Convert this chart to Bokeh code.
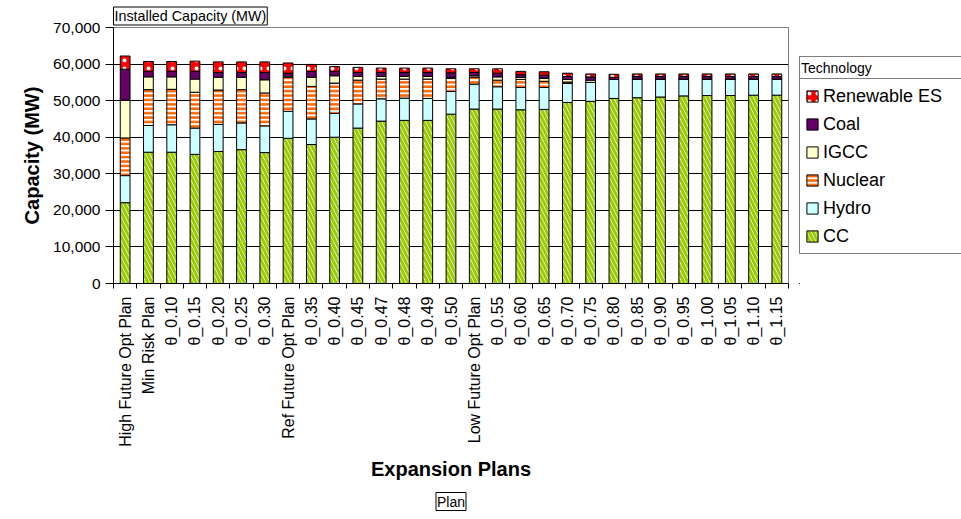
from math import pi

from bokeh.plotting import figure
from bokeh.layouts import row
from bokeh.models import (ColumnDataSource, Range1d, FixedTicker, NumeralTickFormatter,
                          Legend, LegendItem, Title)
from bokeh.transform import stack
from bokeh.embed import file_html
from bokeh.resources import INLINE

FONT = "Liberation Sans"

# Expansion plans on the x axis
plans = ["High Future Opt Plan", "Min Risk Plan", "θ_0.10", "θ_0.15", "θ_0.20", "θ_0.25",
         "θ_0.30", "Ref Future Opt Plan", "θ_0.35", "θ_0.40", "θ_0.45", "θ_0.47", "θ_0.48",
         "θ_0.49", "θ_0.50", "Low Future Opt Plan", "θ_0.55", "θ_0.60", "θ_0.65", "θ_0.70",
         "θ_0.75", "θ_0.80", "θ_0.85", "θ_0.90", "θ_0.95", "θ_1.00", "θ_1.05", "θ_1.10",
         "θ_1.15"]

# Installed capacity by technology (MW)
cc = [22100, 35900, 35900, 35300, 36100, 36600, 35800, 39700, 38000, 40000, 42500, 44400,
      44600, 44600, 46300, 47700, 47700, 47500, 47600, 49500, 49800, 50600, 50800, 51000,
      51300, 51400, 51400, 51500, 51500]
hydro = [7400, 7300, 7500, 7200, 7400, 7300, 7300, 7400, 7000, 6500, 6600, 6100, 6100, 6000,
         6200, 6800, 6100, 6100, 6000, 5200, 5200, 5200, 5100, 4900, 4600, 4500, 4500, 4400,
         4400]
nuclear = [10300, 9800, 9700, 9800, 9400, 9100, 9000, 9300, 8900, 8300, 6500, 5400, 5200, 5300,
           3600, 1900, 1800, 2200, 1700, 400, 0, 0, 0, 0, 0, 0, 0, 0, 0]
igcc = [10300, 3500, 3400, 3600, 3500, 3400, 3600, 300, 2500, 2000, 1000, 700, 700, 700, 300,
        400, 900, 600, 800, 700, 600, 0, 0, 0, 0, 0, 0, 0, 0]
coal = [8500, 1500, 1500, 2100, 1300, 1300, 2000, 800, 1600, 1200, 1100, 1100, 1100, 1100, 1200,
        900, 1000, 700, 900, 800, 900, 600, 700, 700, 700, 700, 700, 700, 700]
renewable = [3600, 2700, 2700, 2800, 2900, 2900, 2900, 2800, 1900, 1300, 1400, 1200, 1200, 1200,
             1100, 1000, 1200, 900, 900, 900, 800, 800, 700, 700, 700, 700, 700, 700, 700]

y_ticks = [0, 10000, 20000, 30000, 40000, 50000, 60000, 70000]

idx = list(range(len(plans)))
source = ColumnDataSource(dict(x=idx, cc=cc, hydro=hydro, nuclear=nuclear, igcc=igcc,
                               coal=coal, renewable=renewable))

# Stack layers, bottom to top, with their fills and hatches
layers = [
    ("cc", "CC", dict(fill_color="white", hatch_pattern="left_diagonal_line",
                      hatch_color="#99CC00", hatch_scale=8, hatch_weight=3)),
    ("hydro", "Hydro", dict(fill_color="#CCFFFF")),
    ("nuclear", "Nuclear", dict(fill_color="white", hatch_pattern="horizontal_line",
                                hatch_color="#FF6600", hatch_scale=4.4, hatch_weight=2.6)),
    ("igcc", "IGCC", dict(fill_color="#FFFFCC")),
    ("coal", "Coal", dict(fill_color="#660066")),
    ("renewable", "Renewable ES", dict(fill_color="#FF0000", hatch_pattern="dot",
                                       hatch_color="white", hatch_scale=8, hatch_weight=1)),
]

BORDERS = dict(min_border_top=27, min_border_bottom=236)

# ---- main chart -------------------------------------------------------------
p = figure(width=799, height=519, output_backend="svg", toolbar_location=None,
           x_range=Range1d(-0.5, len(plans) - 0.5), y_range=Range1d(0, 70000),
           min_border_left=113, min_border_right=11, **BORDERS)
p.background_fill_color = "white"
p.border_fill_color = "white"
p.outline_line_color = "#808080"
p.outline_line_width = 1

below = []
for key, name, style in layers:
    p.vbar(x="x", width=0.42, bottom=stack(*below), top=stack(*(below + [key])),
           source=source, line_color="black", line_width=1, **style)
    below.append(key)

xa = p.xaxis[0]
xa.ticker = FixedTicker(ticks=idx, minor_ticks=[i - 0.5 for i in range(len(plans) + 1)])
xa.major_label_overrides = {i: name for i, name in enumerate(plans)}
xa.major_label_orientation = pi / 2
xa.major_tick_out = 0
xa.major_tick_in = 0
xa.minor_tick_out = 5
xa.minor_tick_in = 0
xa.minor_tick_line_color = "black"
xa.axis_line_color = "black"
xa.major_label_standoff = 8
xa.major_label_text_font = FONT
xa.major_label_text_font_size = "16px"
xa.major_label_text_color = "black"

ya = p.yaxis[0]
ya.ticker = FixedTicker(ticks=y_ticks)
ya.formatter = NumeralTickFormatter(format="0,0")
ya.major_tick_out = 8
ya.major_tick_in = 0
ya.minor_tick_out = 0
ya.minor_tick_in = 0
ya.major_tick_line_color = "black"
ya.axis_line_color = "black"
ya.major_label_standoff = 5
ya.major_label_text_font = FONT
ya.major_label_text_font_size = "15.5px"
ya.major_label_text_color = "black"

p.xgrid.visible = False
p.ygrid.grid_line_color = "black"
p.ygrid.grid_line_width = 1

# Data field button above the plot area
p.add_layout(Title(text="Installed Capacity (MW)", align="left", standoff=5,
                   text_font=FONT, text_font_size="14.3px", text_font_style="normal",
                   text_color="black", border_line_color="black", border_line_width=1,
                   background_fill_color="white", padding=1), "above")

# Axis titles and the plan field button
p.add_layout(Title(text="Capacity (MW)", align="center", offset=-10, standoff=15,
                   text_font=FONT, text_font_size="20px", text_font_style="bold",
                   text_color="black"), "left")
p.add_layout(Title(text="Expansion Plans", align="center", offset=14, standoff=12,
                   text_font=FONT, text_font_size="20px", text_font_style="bold",
                   text_color="black"), "below")
p.add_layout(Title(text="Plan", align="center", offset=1, standoff=10,
                   text_font=FONT, text_font_size="14px", text_font_style="normal",
                   text_color="black", border_line_color="black", border_line_width=1,
                   background_fill_color="white", padding=1), "below")

# ---- legend panel -----------------------------------------------------------
lp = figure(width=162, height=519, output_backend="svg", toolbar_location=None,
            x_range=Range1d(0, 1), y_range=Range1d(0, 1),
            min_border_left=0, min_border_right=0, **BORDERS)
lp.xaxis.visible = False
lp.yaxis.visible = False
lp.grid.visible = False
lp.outline_line_color = None
lp.background_fill_color = "white"
lp.border_fill_color = "white"

# Swatch renderers sit well outside the visible ranges; only their legend glyphs show
swatches = {}
for key, name, style in layers:
    swatches[name] = lp.vbar(x=[-10], bottom=[-10], top=[-9], width=0.42,
                             line_color="black", line_width=1, **style)
header = lp.vbar(x=[-10], bottom=[-10], top=[-9], width=0.1, fill_alpha=0, line_alpha=0)

# Header row ("Technology") sits directly on top of the technology rows
leg_head = Legend(items=[LegendItem(label="Technology", renderers=[header])],
                  location=(0, 203), glyph_width=0, glyph_height=14, label_standoff=0,
                  padding=1, label_height=20, label_width=200, spacing=0,
                  label_text_font=FONT, label_text_font_size="14px", label_text_color="black",
                  border_line_color="black", border_line_width=1,
                  background_fill_color="white", background_fill_alpha=1)
leg_tech = Legend(items=[LegendItem(label=name, renderers=[swatches[name]])
                         for _, name, _ in reversed(layers)],
                  location=(0, 29), glyph_width=14, glyph_height=14,
                  label_standoff=4, padding=5, label_height=24, label_width=200, spacing=4,
                  label_text_font=FONT, label_text_font_size="18px", label_text_color="black",
                  border_line_color="black", border_line_width=1,
                  background_fill_color="white", background_fill_alpha=1)
lp.add_layout(leg_head)
lp.add_layout(leg_tech)

layout = row(p, lp)
open("out.html", "w").write(file_html(layout, INLINE))
